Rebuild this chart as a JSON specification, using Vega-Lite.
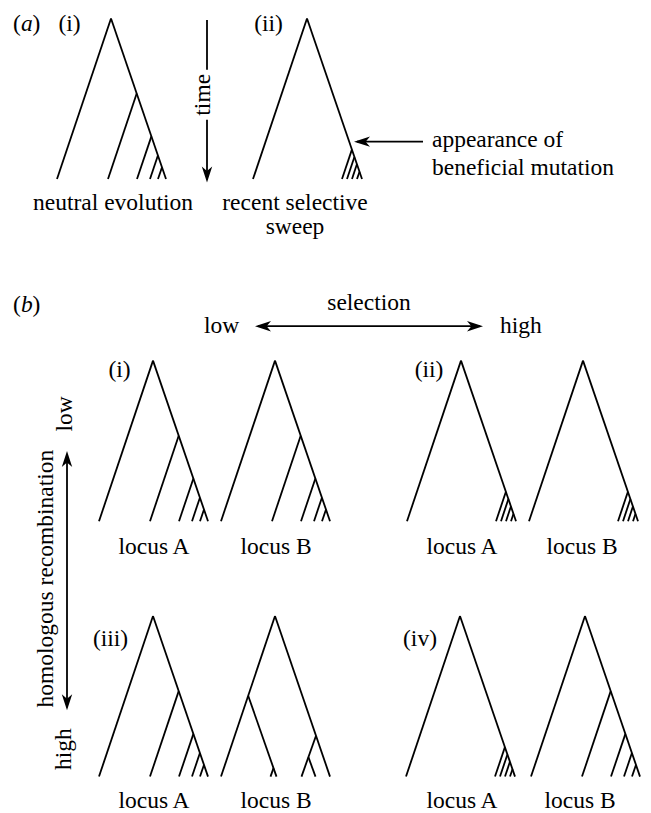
{
  "$schema": "https://vega.github.io/schema/vega-lite/v6.json",
  "width": 651,
  "height": 813,
  "autosize": {"type": "fit", "contains": "padding"},
  "padding": 0,
  "background": "white",
  "config": {"view": {"stroke": null}},
  "datasets": {
    "segments": [
      {"x": 111, "y": 18.5, "x2": 57, "y2": 179.5},
      {"x": 111, "y": 18.5, "x2": 166, "y2": 179.5},
      {"x": 136.7, "y": 93.8, "x2": 108, "y2": 179.5},
      {"x": 151.4, "y": 136.7, "x2": 137, "y2": 179.5},
      {"x": 157.9, "y": 155.9, "x2": 150, "y2": 179.5},
      {"x": 162, "y": 167.7, "x2": 158, "y2": 179.5},

      {"x": 307, "y": 18.5, "x2": 253, "y2": 179.5},
      {"x": 307, "y": 18.5, "x2": 362, "y2": 179.5},
      {"x": 351.9, "y": 150, "x2": 342, "y2": 179.5},
      {"x": 354.4, "y": 157.3, "x2": 347, "y2": 179.5},
      {"x": 356.9, "y": 164.7, "x2": 352, "y2": 179.5},
      {"x": 359.5, "y": 172.1, "x2": 357, "y2": 179.5},

      {"x": 153, "y": 361.5, "x2": 99, "y2": 522.5},
      {"x": 153, "y": 361.5, "x2": 208, "y2": 522.5},
      {"x": 178.7, "y": 436.8, "x2": 150, "y2": 522.5},
      {"x": 193.4, "y": 479.7, "x2": 179, "y2": 522.5},
      {"x": 199.9, "y": 498.9, "x2": 192, "y2": 522.5},
      {"x": 204, "y": 510.7, "x2": 200, "y2": 522.5},

      {"x": 275, "y": 361.5, "x2": 221, "y2": 522.5},
      {"x": 275, "y": 361.5, "x2": 330, "y2": 522.5},
      {"x": 300.7, "y": 436.8, "x2": 272, "y2": 522.5},
      {"x": 315.4, "y": 479.7, "x2": 301, "y2": 522.5},
      {"x": 321.9, "y": 498.9, "x2": 314, "y2": 522.5},
      {"x": 326, "y": 510.7, "x2": 322, "y2": 522.5},

      {"x": 461, "y": 361.5, "x2": 407, "y2": 522.5},
      {"x": 461, "y": 361.5, "x2": 516, "y2": 522.5},
      {"x": 505.9, "y": 493, "x2": 496, "y2": 522.5},
      {"x": 508.4, "y": 500.3, "x2": 501, "y2": 522.5},
      {"x": 510.9, "y": 507.7, "x2": 506, "y2": 522.5},
      {"x": 513.5, "y": 515.1, "x2": 511, "y2": 522.5},

      {"x": 583, "y": 361.5, "x2": 529, "y2": 522.5},
      {"x": 583, "y": 361.5, "x2": 638, "y2": 522.5},
      {"x": 627.9, "y": 493, "x2": 618, "y2": 522.5},
      {"x": 630.4, "y": 500.3, "x2": 623, "y2": 522.5},
      {"x": 632.9, "y": 507.7, "x2": 628, "y2": 522.5},
      {"x": 635.5, "y": 515.1, "x2": 633, "y2": 522.5},

      {"x": 153, "y": 617.5, "x2": 99, "y2": 778.5},
      {"x": 153, "y": 617.5, "x2": 208, "y2": 778.5},
      {"x": 178.7, "y": 692.8, "x2": 150, "y2": 778.5},
      {"x": 193.4, "y": 735.7, "x2": 179, "y2": 778.5},
      {"x": 199.9, "y": 754.9, "x2": 192, "y2": 778.5},
      {"x": 204, "y": 766.7, "x2": 200, "y2": 778.5},

      {"x": 275, "y": 617.5, "x2": 221, "y2": 778.5},
      {"x": 275, "y": 617.5, "x2": 330, "y2": 778.5},
      {"x": 248.2, "y": 697.5, "x2": 273.5, "y2": 770},
      {"x": 273.5, "y": 770, "x2": 270.5, "y2": 778.5},
      {"x": 273.5, "y": 770, "x2": 276.5, "y2": 778.5},
      {"x": 316, "y": 737.5, "x2": 301.5, "y2": 778.5},
      {"x": 308.4, "y": 759, "x2": 315.5, "y2": 778.5},

      {"x": 460, "y": 617.5, "x2": 406, "y2": 778.5},
      {"x": 460, "y": 617.5, "x2": 515, "y2": 778.5},
      {"x": 504.9, "y": 749, "x2": 495, "y2": 778.5},
      {"x": 507.4, "y": 756.3, "x2": 500, "y2": 778.5},
      {"x": 509.9, "y": 763.7, "x2": 505, "y2": 778.5},
      {"x": 512.5, "y": 771.1, "x2": 510, "y2": 778.5},

      {"x": 585, "y": 617.5, "x2": 531, "y2": 778.5},
      {"x": 585, "y": 617.5, "x2": 640, "y2": 778.5},
      {"x": 610.7, "y": 692.8, "x2": 582, "y2": 778.5},
      {"x": 625.4, "y": 735.7, "x2": 611, "y2": 778.5},
      {"x": 631.9, "y": 754.9, "x2": 624, "y2": 778.5},
      {"x": 636, "y": 766.7, "x2": 632, "y2": 778.5},

      {"x": 207, "y": 20, "x2": 207, "y2": 70},
      {"x": 207, "y": 120, "x2": 207, "y2": 180},
      {"x": 357, "y": 142, "x2": 423, "y2": 142},
      {"x": 258, "y": 327, "x2": 480, "y2": 327},
      {"x": 67, "y": 455, "x2": 67, "y2": 709}
    ],
    "heads": [
      {"x": 207, "y": 183, "dir": "down"},
      {"x": 354, "y": 142, "dir": "left"},
      {"x": 255, "y": 327, "dir": "left"},
      {"x": 483, "y": 327, "dir": "right"},
      {"x": 67, "y": 452, "dir": "up"},
      {"x": 67, "y": 712, "dir": "down"}
    ],
    "centerLabels": [
      {"text": "neutral evolution", "x": 113, "y": 211},
      {"text": "recent selective", "x": 295, "y": 211},
      {"text": "sweep", "x": 295, "y": 235},
      {"text": "(i)", "x": 69.5, "y": 31},
      {"text": "(ii)", "x": 268.5, "y": 31},
      {"text": "selection", "x": 369, "y": 311},
      {"text": "(i)", "x": 119.5, "y": 378},
      {"text": "(ii)", "x": 429, "y": 378},
      {"text": "(iii)", "x": 110.5, "y": 648},
      {"text": "(iv)", "x": 420, "y": 648},
      {"text": "locus A", "x": 154, "y": 555},
      {"text": "locus B", "x": 276, "y": 555},
      {"text": "locus A", "x": 462, "y": 555},
      {"text": "locus B", "x": 582, "y": 555},
      {"text": "locus A", "x": 154, "y": 810},
      {"text": "locus B", "x": 276, "y": 810},
      {"text": "locus A", "x": 462, "y": 810},
      {"text": "locus B", "x": 580, "y": 810}
    ],
    "leftLabels": [
      {"text": "appearance of", "x": 432, "y": 147},
      {"text": "beneficial mutation", "x": 432, "y": 175},
      {"text": "low", "x": 204, "y": 334},
      {"text": "high", "x": 500, "y": 334},
      {"text": "(", "x": 13, "y": 31},
      {"text": ")", "x": 32.5, "y": 31},
      {"text": "(", "x": 13, "y": 313},
      {"text": ")", "x": 32.5, "y": 313}
    ],
    "italicLabels": [
      {"text": "a", "x": 21, "y": 31},
      {"text": "b", "x": 21, "y": 313}
    ],
    "verticalLabels": [
      {"text": "time", "x": 203, "y": 95},
      {"text": "low", "x": 65, "y": 415},
      {"text": "homologous recombination", "x": 46, "y": 580},
      {"text": "high", "x": 64, "y": 751}
    ]
  },
  "layer": [
    {
      "data": {"name": "segments"},
      "mark": {"type": "rule", "color": "black", "strokeWidth": 1.8},
      "encoding": {
        "x": {"field": "x", "type": "quantitative", "scale": {"domain": [0, 651], "nice": false, "zero": false}, "axis": null},
        "y": {"field": "y", "type": "quantitative", "scale": {"domain": [0, 813], "nice": false, "zero": false, "reverse": true}, "axis": null},
        "x2": {"field": "x2"},
        "y2": {"field": "y2"}
      }
    },
    {
      "data": {"name": "heads"},
      "mark": {"type": "point", "filled": true, "color": "black", "opacity": 1, "size": 256, "strokeWidth": 0},
      "encoding": {
        "x": {"field": "x", "type": "quantitative", "scale": {"domain": [0, 651], "nice": false, "zero": false}, "axis": null},
        "y": {"field": "y", "type": "quantitative", "scale": {"domain": [0, 813], "nice": false, "zero": false, "reverse": true}, "axis": null},
        "shape": {
          "field": "dir", "type": "nominal", "legend": null,
          "scale": {
            "domain": ["right", "left", "down", "up"],
            "range": [
              "M0,0L-2,-0.65L-1.45,0L-2,0.65Z",
              "M0,0L2,-0.65L1.45,0L2,0.65Z",
              "M0,0L-0.65,-2L0,-1.45L0.65,-2Z",
              "M0,0L-0.65,2L0,1.45L0.65,2Z"
            ]
          }
        }
      }
    },
    {
      "data": {"name": "centerLabels"},
      "mark": {"type": "text", "font": "Liberation Serif", "fontSize": 23.5, "color": "black", "align": "center", "baseline": "alphabetic"},
      "encoding": {
        "x": {"field": "x", "type": "quantitative", "scale": {"domain": [0, 651], "nice": false, "zero": false}, "axis": null},
        "y": {"field": "y", "type": "quantitative", "scale": {"domain": [0, 813], "nice": false, "zero": false, "reverse": true}, "axis": null},
        "text": {"field": "text"}
      }
    },
    {
      "data": {"name": "leftLabels"},
      "mark": {"type": "text", "font": "Liberation Serif", "fontSize": 23.5, "color": "black", "align": "left", "baseline": "alphabetic"},
      "encoding": {
        "x": {"field": "x", "type": "quantitative", "scale": {"domain": [0, 651], "nice": false, "zero": false}, "axis": null},
        "y": {"field": "y", "type": "quantitative", "scale": {"domain": [0, 813], "nice": false, "zero": false, "reverse": true}, "axis": null},
        "text": {"field": "text"}
      }
    },
    {
      "data": {"name": "italicLabels"},
      "mark": {"type": "text", "font": "Liberation Serif", "fontSize": 23.5, "fontStyle": "italic", "color": "black", "align": "left", "baseline": "alphabetic"},
      "encoding": {
        "x": {"field": "x", "type": "quantitative", "scale": {"domain": [0, 651], "nice": false, "zero": false}, "axis": null},
        "y": {"field": "y", "type": "quantitative", "scale": {"domain": [0, 813], "nice": false, "zero": false, "reverse": true}, "axis": null},
        "text": {"field": "text"}
      }
    },
    {
      "data": {"name": "verticalLabels"},
      "mark": {"type": "text", "font": "Liberation Serif", "fontSize": 23.5, "color": "black", "align": "center", "baseline": "middle", "angle": 270},
      "encoding": {
        "x": {"field": "x", "type": "quantitative", "scale": {"domain": [0, 651], "nice": false, "zero": false}, "axis": null},
        "y": {"field": "y", "type": "quantitative", "scale": {"domain": [0, 813], "nice": false, "zero": false, "reverse": true}, "axis": null},
        "text": {"field": "text"}
      }
    }
  ]
}
